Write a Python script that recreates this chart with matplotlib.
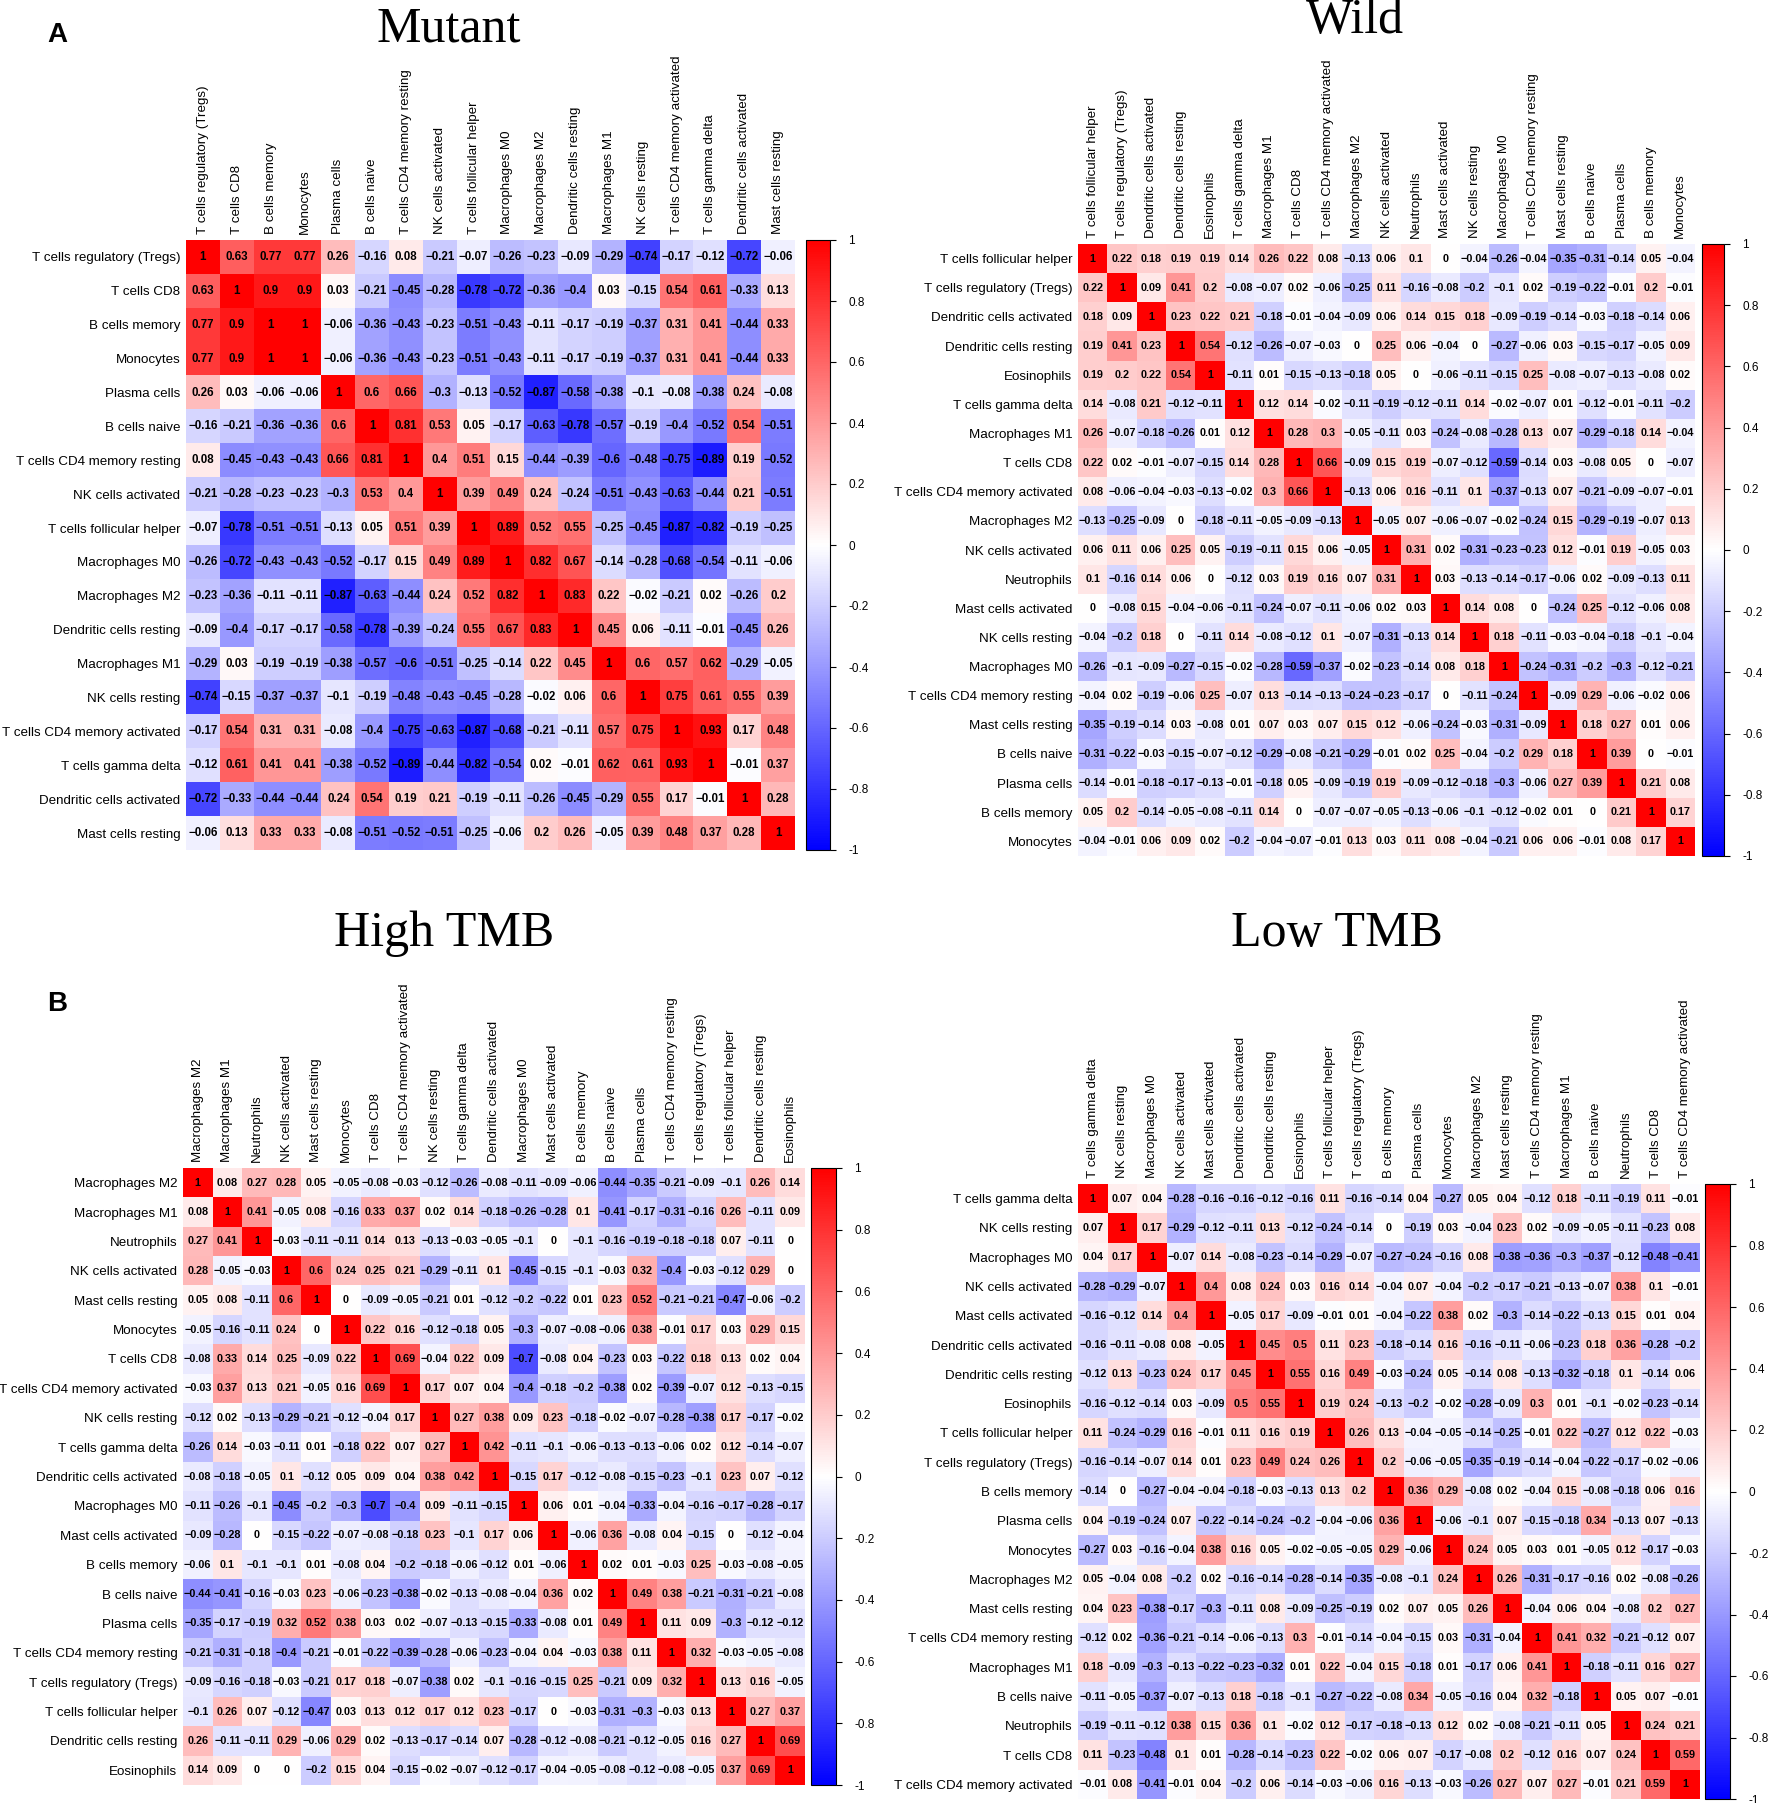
import numpy as np
import matplotlib
matplotlib.use('Agg')
import matplotlib.pyplot as plt

plt.rcParams['font.family'] = ['Liberation Sans', 'DejaVu Sans']

W, H = 1772, 1803

# ---- Mutant ----
mut_labels = ['T cells regulatory (Tregs)', 'T cells CD8', 'B cells memory', 'Monocytes',
              'Plasma cells', 'B cells naive', 'T cells CD4 memory resting', 'NK cells activated',
              'T cells follicular helper', 'Macrophages M0', 'Macrophages M2',
              'Dendritic cells resting', 'Macrophages M1', 'NK cells resting',
              'T cells CD4 memory activated', 'T cells gamma delta', 'Dendritic cells activated',
              'Mast cells resting']
# lower triangle, row i holds columns 0..i-1
mut_tri = [
    [0.63],
    [0.77, 0.9],
    [0.77, 0.9, 1],
    [0.26, 0.03, -0.06, -0.06],
    [-0.16, -0.21, -0.36, -0.36, 0.6],
    [0.08, -0.45, -0.43, -0.43, 0.66, 0.81],
    [-0.21, -0.28, -0.23, -0.23, -0.3, 0.53, 0.4],
    [-0.07, -0.78, -0.51, -0.51, -0.13, 0.05, 0.51, 0.39],
    [-0.26, -0.72, -0.43, -0.43, -0.52, -0.17, 0.15, 0.49, 0.89],
    [-0.23, -0.36, -0.11, -0.11, -0.87, -0.63, -0.44, 0.24, 0.52, 0.82],
    [-0.09, -0.4, -0.17, -0.17, -0.58, -0.78, -0.39, -0.24, 0.55, 0.67, 0.83],
    [-0.29, 0.03, -0.19, -0.19, -0.38, -0.57, -0.6, -0.51, -0.25, -0.14, 0.22, 0.45],
    [-0.74, -0.15, -0.37, -0.37, -0.1, -0.19, -0.48, -0.43, -0.45, -0.28, -0.02, 0.06, 0.6],
    [-0.17, 0.54, 0.31, 0.31, -0.08, -0.4, -0.75, -0.63, -0.87, -0.68, -0.21, -0.11, 0.57, 0.75],
    [-0.12, 0.61, 0.41, 0.41, -0.38, -0.52, -0.89, -0.44, -0.82, -0.54, 0.02, -0.01, 0.62, 0.61, 0.93],
    [-0.72, -0.33, -0.44, -0.44, 0.24, 0.54, 0.19, 0.21, -0.19, -0.11, -0.26, -0.45, -0.29, 0.55, 0.17, -0.01],
    [-0.06, 0.13, 0.33, 0.33, -0.08, -0.51, -0.52, -0.51, -0.25, -0.06, 0.2, 0.26, -0.05, 0.39, 0.48, 0.37, 0.28],
]

# ---- Wild ----
wild_labels = ['T cells follicular helper', 'T cells regulatory (Tregs)', 'Dendritic cells activated',
               'Dendritic cells resting', 'Eosinophils', 'T cells gamma delta', 'Macrophages M1',
               'T cells CD8', 'T cells CD4 memory activated', 'Macrophages M2', 'NK cells activated',
               'Neutrophils', 'Mast cells activated', 'NK cells resting', 'Macrophages M0',
               'T cells CD4 memory resting', 'Mast cells resting', 'B cells naive', 'Plasma cells',
               'B cells memory', 'Monocytes']
wild_tri = [
    [0.22],
    [0.18, 0.09],
    [0.19, 0.41, 0.23],
    [0.19, 0.2, 0.22, 0.54],
    [0.14, -0.08, 0.21, -0.12, -0.11],
    [0.26, -0.07, -0.18, -0.26, 0.01, 0.12],
    [0.22, 0.02, -0.01, -0.07, -0.15, 0.14, 0.28],
    [0.08, -0.06, -0.04, -0.03, -0.13, -0.02, 0.3, 0.66],
    [-0.13, -0.25, -0.09, 0, -0.18, -0.11, -0.05, -0.09, -0.13],
    [0.06, 0.11, 0.06, 0.25, 0.05, -0.19, -0.11, 0.15, 0.06, -0.05],
    [0.1, -0.16, 0.14, 0.06, 0, -0.12, 0.03, 0.19, 0.16, 0.07, 0.31],
    [0, -0.08, 0.15, -0.04, -0.06, -0.11, -0.24, -0.07, -0.11, -0.06, 0.02, 0.03],
    [-0.04, -0.2, 0.18, 0, -0.11, 0.14, -0.08, -0.12, 0.1, -0.07, -0.31, -0.13, 0.14],
    [-0.26, -0.1, -0.09, -0.27, -0.15, -0.02, -0.28, -0.59, -0.37, -0.02, -0.23, -0.14, 0.08, 0.18],
    [-0.04, 0.02, -0.19, -0.06, 0.25, -0.07, 0.13, -0.14, -0.13, -0.24, -0.23, -0.17, 0, -0.11, -0.24],
    [-0.35, -0.19, -0.14, 0.03, -0.08, 0.01, 0.07, 0.03, 0.07, 0.15, 0.12, -0.06, -0.24, -0.03, -0.31, -0.09],
    [-0.31, -0.22, -0.03, -0.15, -0.07, -0.12, -0.29, -0.08, -0.21, -0.29, -0.01, 0.02, 0.25, -0.04, -0.2, 0.29, 0.18],
    [-0.14, -0.01, -0.18, -0.17, -0.13, -0.01, -0.18, 0.05, -0.09, -0.19, 0.19, -0.09, -0.12, -0.18, -0.3, -0.06, 0.27, 0.39],
    [0.05, 0.2, -0.14, -0.05, -0.08, -0.11, 0.14, 0, -0.07, -0.07, -0.05, -0.13, -0.06, -0.1, -0.12, -0.02, 0.01, 0, 0.21],
    [-0.04, -0.01, 0.06, 0.09, 0.02, -0.2, -0.04, -0.07, -0.01, 0.13, 0.03, 0.11, 0.08, -0.04, -0.21, 0.06, 0.06, -0.01, 0.08, 0.17],
]

# ---- High TMB ----
high_labels = ['Macrophages M2', 'Macrophages M1', 'Neutrophils', 'NK cells activated',
               'Mast cells resting', 'Monocytes', 'T cells CD8', 'T cells CD4 memory activated',
               'NK cells resting', 'T cells gamma delta', 'Dendritic cells activated',
               'Macrophages M0', 'Mast cells activated', 'B cells memory', 'B cells naive',
               'Plasma cells', 'T cells CD4 memory resting', 'T cells regulatory (Tregs)',
               'T cells follicular helper', 'Dendritic cells resting', 'Eosinophils']
high_tri = [
    [0.08],
    [0.27, 0.41],
    [0.28, -0.05, -0.03],
    [0.05, 0.08, -0.11, 0.6],
    [-0.05, -0.16, -0.11, 0.24, 0],
    [-0.08, 0.33, 0.14, 0.25, -0.09, 0.22],
    [-0.03, 0.37, 0.13, 0.21, -0.05, 0.16, 0.69],
    [-0.12, 0.02, -0.13, -0.29, -0.21, -0.12, -0.04, 0.17],
    [-0.26, 0.14, -0.03, -0.11, 0.01, -0.18, 0.22, 0.07, 0.27],
    [-0.08, -0.18, -0.05, 0.1, -0.12, 0.05, 0.09, 0.04, 0.38, 0.42],
    [-0.11, -0.26, -0.1, -0.45, -0.2, -0.3, -0.7, -0.4, 0.09, -0.11, -0.15],
    [-0.09, -0.28, 0, -0.15, -0.22, -0.07, -0.08, -0.18, 0.23, -0.1, 0.17, 0.06],
    [-0.06, 0.1, -0.1, -0.1, 0.01, -0.08, 0.04, -0.2, -0.18, -0.06, -0.12, 0.01, -0.06],
    [-0.44, -0.41, -0.16, -0.03, 0.23, -0.06, -0.23, -0.38, -0.02, -0.13, -0.08, -0.04, 0.36, 0.02],
    [-0.35, -0.17, -0.19, 0.32, 0.52, 0.38, 0.03, 0.02, -0.07, -0.13, -0.15, -0.33, -0.08, 0.01, 0.49],
    [-0.21, -0.31, -0.18, -0.4, -0.21, -0.01, -0.22, -0.39, -0.28, -0.06, -0.23, -0.04, 0.04, -0.03, 0.38, 0.11],
    [-0.09, -0.16, -0.18, -0.03, -0.21, 0.17, 0.18, -0.07, -0.38, 0.02, -0.1, -0.16, -0.15, 0.25, -0.21, 0.09, 0.32],
    [-0.1, 0.26, 0.07, -0.12, -0.47, 0.03, 0.13, 0.12, 0.17, 0.12, 0.23, -0.17, 0, -0.03, -0.31, -0.3, -0.03, 0.13],
    [0.26, -0.11, -0.11, 0.29, -0.06, 0.29, 0.02, -0.13, -0.17, -0.14, 0.07, -0.28, -0.12, -0.08, -0.21, -0.12, -0.05, 0.16, 0.27],
    [0.14, 0.09, 0, 0, -0.2, 0.15, 0.04, -0.15, -0.02, -0.07, -0.12, -0.17, -0.04, -0.05, -0.08, -0.12, -0.08, -0.05, 0.37, 0.69],
]

# ---- Low TMB ----
low_labels = ['T cells gamma delta', 'NK cells resting', 'Macrophages M0', 'NK cells activated',
              'Mast cells activated', 'Dendritic cells activated', 'Dendritic cells resting',
              'Eosinophils', 'T cells follicular helper', 'T cells regulatory (Tregs)',
              'B cells memory', 'Plasma cells', 'Monocytes', 'Macrophages M2', 'Mast cells resting',
              'T cells CD4 memory resting', 'Macrophages M1', 'B cells naive', 'Neutrophils',
              'T cells CD8', 'T cells CD4 memory activated']
low_tri = [
    [0.07],
    [0.04, 0.17],
    [-0.28, -0.29, -0.07],
    [-0.16, -0.12, 0.14, 0.4],
    [-0.16, -0.11, -0.08, 0.08, -0.05],
    [-0.12, 0.13, -0.23, 0.24, 0.17, 0.45],
    [-0.16, -0.12, -0.14, 0.03, -0.09, 0.5, 0.55],
    [0.11, -0.24, -0.29, 0.16, -0.01, 0.11, 0.16, 0.19],
    [-0.16, -0.14, -0.07, 0.14, 0.01, 0.23, 0.49, 0.24, 0.26],
    [-0.14, 0, -0.27, -0.04, -0.04, -0.18, -0.03, -0.13, 0.13, 0.2],
    [0.04, -0.19, -0.24, 0.07, -0.22, -0.14, -0.24, -0.2, -0.04, -0.06, 0.36],
    [-0.27, 0.03, -0.16, -0.04, 0.38, 0.16, 0.05, -0.02, -0.05, -0.05, 0.29, -0.06],
    [0.05, -0.04, 0.08, -0.2, 0.02, -0.16, -0.14, -0.28, -0.14, -0.35, -0.08, -0.1, 0.24],
    [0.04, 0.23, -0.38, -0.17, -0.3, -0.11, 0.08, -0.09, -0.25, -0.19, 0.02, 0.07, 0.05, 0.26],
    [-0.12, 0.02, -0.36, -0.21, -0.14, -0.06, -0.13, 0.3, -0.01, -0.14, -0.04, -0.15, 0.03, -0.31, -0.04],
    [0.18, -0.09, -0.3, -0.13, -0.22, -0.23, -0.32, 0.01, 0.22, -0.04, 0.15, -0.18, 0.01, -0.17, 0.06, 0.41],
    [-0.11, -0.05, -0.37, -0.07, -0.13, 0.18, -0.18, -0.1, -0.27, -0.22, -0.08, 0.34, -0.05, -0.16, 0.04, 0.32, -0.18],
    [-0.19, -0.11, -0.12, 0.38, 0.15, 0.36, 0.1, -0.02, 0.12, -0.17, -0.18, -0.13, 0.12, 0.02, -0.08, -0.21, -0.11, 0.05],
    [0.11, -0.23, -0.48, 0.1, 0.01, -0.28, -0.14, -0.23, 0.22, -0.02, 0.06, 0.07, -0.17, -0.08, 0.2, -0.12, 0.16, 0.07, 0.24],
    [-0.01, 0.08, -0.41, -0.01, 0.04, -0.2, 0.06, -0.14, -0.03, -0.06, 0.16, -0.13, -0.03, -0.26, 0.27, 0.07, 0.27, -0.01, 0.21, 0.59],
]

cbar_ticks = [1, 0.8, 0.6, 0.4, 0.2, 0, -0.2, -0.4, -0.6, -0.8, -1]


def full(tri):
    # symmetric matrix from lower triangle, ones on the diagonal
    n = len(tri) + 1
    m = np.eye(n)
    for i, row in enumerate(tri, start=1):
        for j, v in enumerate(row):
            m[i, j] = v
            m[j, i] = v
    return m


def box(x0, y0, x1, y1):
    # pixel box (top-left origin) -> figure fraction
    return [x0 / W, 1 - y1 / H, (x1 - x0) / W, (y1 - y0) / H]


def fmt(v, minus='\u2212'):
    return ('%g' % v).replace('-', minus)


def panel(fig, labels, tri, mbox, cbox, title, tpos, vsize):
    m = full(tri)
    n = len(labels)
    ax = fig.add_axes(box(*mbox))
    im = ax.imshow(m, cmap='bwr', vmin=-1, vmax=1, aspect='auto', interpolation='nearest')
    for i in range(n):
        for j in range(n):
            ax.text(j, i, fmt(m[i, j]), ha='center', va='center',
                    fontsize=vsize, fontweight='bold', color='black')
    ax.set_xticks(range(n))
    ax.set_yticks(range(n))
    ax.set_xticklabels(labels, rotation=90, fontsize=9.6)
    ax.set_yticklabels(labels, fontsize=9.6)
    ax.xaxis.tick_top()
    ax.tick_params(length=0, pad=4)
    for s in ax.spines.values():
        s.set_visible(False)

    cax = fig.add_axes(box(*cbox))
    cb = fig.colorbar(im, cax=cax, ticks=cbar_ticks)
    cb.set_ticklabels([fmt(t, '-') for t in cbar_ticks])
    cax.tick_params(length=4, width=0.8, pad=9, labelsize=8.5)
    cb.outline.set_linewidth(0.8)

    # title placed by its baseline
    fig.text(tpos[0] / W, 1 - tpos[1] / H, title, ha='center', va='baseline',
             fontsize=36, family='Liberation Serif')


fig = plt.figure(figsize=(W / 100, H / 100), dpi=100)

panel(fig, mut_labels, mut_tri, (186, 240, 795, 850), (806, 240, 830, 850), 'Mutant', (449, 42), 8.3)
panel(fig, wild_labels, wild_tri, (1078, 244, 1695, 856), (1702, 244, 1724, 856), 'Wild', (1355, 33), 7.8)
panel(fig, high_labels, high_tri, (183, 1168, 805, 1785), (811, 1168, 836, 1785), 'High TMB', (444, 946), 7.8)
panel(fig, low_labels, low_tri, (1078, 1184, 1700, 1799), (1705, 1184, 1730, 1799), 'Low TMB', (1337, 946), 7.8)

fig.text(57 / W, 1 - 35 / H, 'A', ha='center', va='center', fontsize=20, fontweight='bold')
fig.text(57 / W, 1 - 1004 / H, 'B', ha='center', va='center', fontsize=20, fontweight='bold')

fig.savefig('out.png', dpi=100)
